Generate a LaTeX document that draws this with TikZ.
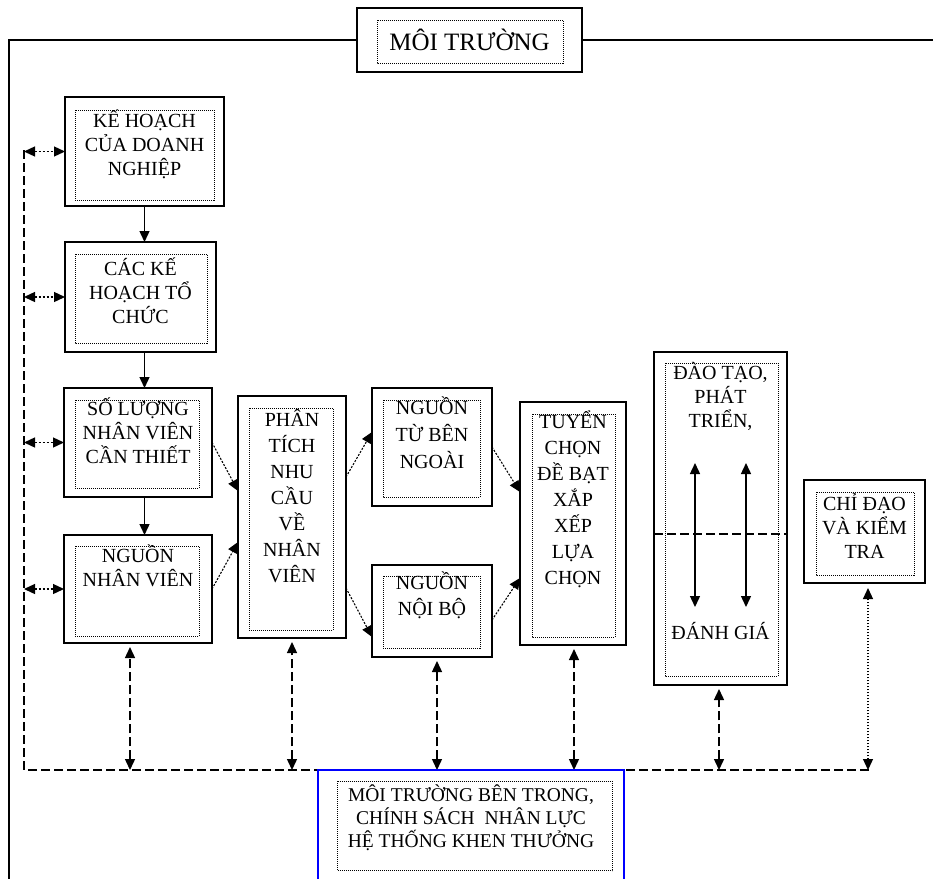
\documentclass[tikz,border=0pt]{standalone}
\usepackage{fontspec}
\setmainfont{Liberation Serif}
\usetikzlibrary{positioning,arrows.meta}

\begin{document}
\begin{tikzpicture}[x=1pt,y=-1pt,>={Triangle[length=11pt,width=10pt]},
    outerbox/.style={draw,line width=1.6pt,inner sep=0pt,outer sep=0pt},
    inbox/.style={line width=0.9pt,dash pattern=on 1pt off 1pt},
    lbl/.style={align=center,inner sep=0pt,font=\fontsize{20}{24}\selectfont},
    flow/.style={->,line width=1.4pt},
    diag/.style={->,line width=1.1pt,dash pattern=on 2pt off 1.5pt},
    side/.style={<->,line width=1.3pt,dash pattern=on 2pt off 2pt},
    bus/.style={line width=1.4pt,dash pattern=on 9pt off 4pt},
    busarrow/.style={<->,line width=1.4pt,dash pattern=on 9pt off 4pt,shorten >=4pt}]
    \clip (0,0) rectangle (933,878);

    % moi truong (top)
    \node[outerbox,minimum width=225,minimum height=64] (moitruong) at (469.5,40) {};
    \draw[inbox] ([shift={(20pt,-12pt)}]moitruong.north west) rectangle ([shift={(-19pt,9pt)}]moitruong.south east);
    \node[lbl,font=\fontsize{25}{28}\selectfont] (moitruong-t) at (moitruong) {MÔI TRƯỜNG};
    \coordinate (frameBL) at (9,880);
    \coordinate (frameR) at (935,40);
    \draw[line width=1.5pt] (moitruong.west) -| (frameBL);
    \draw[line width=1.5pt] (moitruong.east) -- (frameR);

    % boxes
    \node[outerbox,minimum width=159,minimum height=109] (kehoach) at (144.5,151.5) {};
    \node[outerbox,minimum width=151,minimum height=110] (cackh) at (140.5,297) {};
    \node[outerbox,minimum width=148,minimum height=109] (soluong) at (138,442.5) {};
    \node[outerbox,minimum width=148,minimum height=108] (nguonnv) at (138,589) {};
    \node[outerbox,minimum width=108,minimum height=242] (phantich) at (292,517) {};
    \node[outerbox,minimum width=120,minimum height=118] (benngoai) at (432,447) {};
    \node[outerbox,minimum width=120,minimum height=92] (noibo) at (432,611) {};
    \node[outerbox,minimum width=106,minimum height=243] (tuyenchon) at (573,523.5) {};
    \node[outerbox,minimum width=133,minimum height=333] (daotao) at (720.5,518.5) {};
    \node[outerbox,minimum width=121,minimum height=103] (chidao) at (864.5,531.5) {};

    % dotted inner frames
    \draw[inbox] ([shift={(10pt,-13pt)}]kehoach.north west) rectangle ([shift={(-10pt,6pt)}]kehoach.south east);
    \draw[inbox] ([shift={(10pt,-12pt)}]cackh.north west) rectangle ([shift={(-9pt,9pt)}]cackh.south east);
    \draw[inbox] ([shift={(11pt,-12pt)}]soluong.north west) rectangle ([shift={(-13pt,9pt)}]soluong.south east);
    \draw[inbox] ([shift={(11pt,-11pt)}]nguonnv.north west) rectangle ([shift={(-13pt,7pt)}]nguonnv.south east);
    \draw[inbox] ([shift={(11pt,-12pt)}]phantich.north west) rectangle ([shift={(-13pt,8pt)}]phantich.south east);
    \draw[inbox] ([shift={(11pt,-12pt)}]benngoai.north west) rectangle ([shift={(-12pt,9pt)}]benngoai.south east);
    \draw[inbox] ([shift={(11pt,-11pt)}]noibo.north west) rectangle ([shift={(-12pt,9pt)}]noibo.south east);
    \draw[inbox] ([shift={(12pt,-12pt)}]tuyenchon.north west) rectangle ([shift={(-11pt,8pt)}]tuyenchon.south east);
    \draw[inbox] ([shift={(11pt,-11pt)}]daotao.north west) rectangle ([shift={(-9pt,9pt)}]daotao.south east);
    \draw[inbox] ([shift={(12pt,-12pt)}]chidao.north west) rectangle ([shift={(-11pt,8pt)}]chidao.south east);

    % texts
    \node[lbl,below=13pt of kehoach.north] (kehoach-t) {KẾ HOẠCH\\CỦA DOANH\\NGHIỆP};
    \node[lbl,below=16pt of cackh.north] (cackh-t) {CÁC KẾ\\HOẠCH TỔ\\CHỨC};
    \node[lbl,below=10pt of soluong.north] (soluong-t) {SỐ LƯỢNG\\NHÂN VIÊN\\CẦN THIẾT};
    \node[lbl,below=10pt of nguonnv.north] (nguonnv-t) {NGUỒN\\NHÂN VIÊN};
    \node[lbl,font=\fontsize{20}{26}\selectfont,below=13pt of phantich.north] (phantich-t) {PHÂN\\TÍCH\\NHU\\CẦU\\VỀ\\NHÂN\\VIÊN};
    \node[lbl,font=\fontsize{20}{27}\selectfont,below=9pt of benngoai.north] (benngoai-t) {NGUỒN\\TỪ BÊN\\NGOÀI};
    \node[lbl,font=\fontsize{20}{26}\selectfont,below=7pt of noibo.north] (noibo-t) {NGUỒN\\NỘI BỘ};
    \node[lbl,font=\fontsize{20}{26}\selectfont,below=9pt of tuyenchon.north] (tuyenchon-t) {TUYỂN\\CHỌN\\ĐỀ BẠT\\XẮP\\XẾP\\LỰA\\CHỌN};
    \node[lbl,below=10pt of daotao.north] (daotao-t) {ĐÀO TẠO,\\PHÁT\\TRIỂN,};
    \node[lbl,above=45pt of daotao.south] (danhgia) {ĐÁNH GIÁ};
    \node[lbl,below=13pt of chidao.north] (chidao-t) {CHỈ ĐẠO\\VÀ KIỂM\\TRA};

    % main flow
    \draw[flow] (kehoach.south) -- (kehoach.south |- cackh.north);
    \draw[flow] (kehoach.south |- cackh.south) -- (kehoach.south |- soluong.north);
    \draw[flow] (kehoach.south |- soluong.south) -- (kehoach.south |- nguonnv.north);
    \draw[diag] (soluong.east) -- ([yshift=26pt]phantich.west);
    \draw[diag] (nguonnv.east) -- ([yshift=-25pt]phantich.west);
    \draw[diag] ([yshift=40pt]phantich.east) -- ([yshift=15pt]benngoai.west);
    \draw[diag] ([yshift=-71pt]phantich.east) -- ([yshift=-26pt]noibo.west);
    \draw[diag] (benngoai.east) -- ([yshift=31.5pt]tuyenchon.west);
    \draw[diag] ([yshift=-9pt]noibo.east) -- ([yshift=-54.5pt]tuyenchon.west);

    % dao tao / danh gia
    \coordinate (dtmid) at (720.5,534);
    \coordinate (tr1) at (695,463);
    \coordinate (ev1) at (695,607);
    \coordinate (tr2) at (746,463);
    \coordinate (ev2) at (746,607);
    \draw[bus] (daotao.west |- dtmid) -- (daotao.east |- dtmid);
    \draw[<->,line width=1.4pt] (tr1) -- (ev1);
    \draw[<->,line width=1.4pt] (tr2) -- (ev2);

    % dashed bus
    \coordinate (busT) at (24,150);
    \coordinate (busL) at (24,770);
    \coordinate (busR) at (869,770);
    \draw[bus] (busT) -- (busL) -- (busR);
    \draw[side] (busT |- kehoach.west) -- (kehoach.west);
    \draw[side] (busT |- cackh.west) -- (cackh.west);
    \draw[side] (busT |- soluong.west) -- (soluong.west);
    \draw[side] (busT |- nguonnv.west) -- (nguonnv.west);

    \coordinate (b-nv) at (130,770);
    \coordinate (b-pt) at (292,770);
    \coordinate (b-nb) at (437,770);
    \coordinate (b-tc) at (574,770);
    \coordinate (b-dt) at (719,770);
    \coordinate (b-cd) at (868,770);
    \draw[busarrow] (b-nv) -- (b-nv |- nguonnv.south);
    \draw[busarrow] (b-pt) -- (b-pt |- phantich.south);
    \draw[busarrow] (b-nb) -- (b-nb |- noibo.south);
    \draw[busarrow] (b-tc) -- (b-tc |- tuyenchon.south);
    \draw[busarrow] (b-dt) -- (b-dt |- daotao.south);
    \draw[<->,line width=1.2pt,dash pattern=on 1.5pt off 1.5pt,shorten >=5pt] (b-cd) -- (b-cd |- chidao.south);

    % moi truong ben trong (bottom)
    \node[draw=blue,line width=1.5pt,inner sep=0pt,minimum width=306,minimum height=130] (bentrong) at (471,835) {};
    \draw[inbox] ([shift={(20pt,-12pt)}]bentrong.north west) rectangle ([shift={(-12pt,30pt)}]bentrong.south east);
    \node[lbl,font=\fontsize{19.5}{23}\selectfont,below=15pt of bentrong.north] (bentrong-t) {MÔI TRƯỜNG BÊN TRONG,\\CHÍNH SÁCH\ \ NHÂN LỰC\\HỆ THỐNG KHEN THƯỞNG};
\end{tikzpicture}
\end{document}
